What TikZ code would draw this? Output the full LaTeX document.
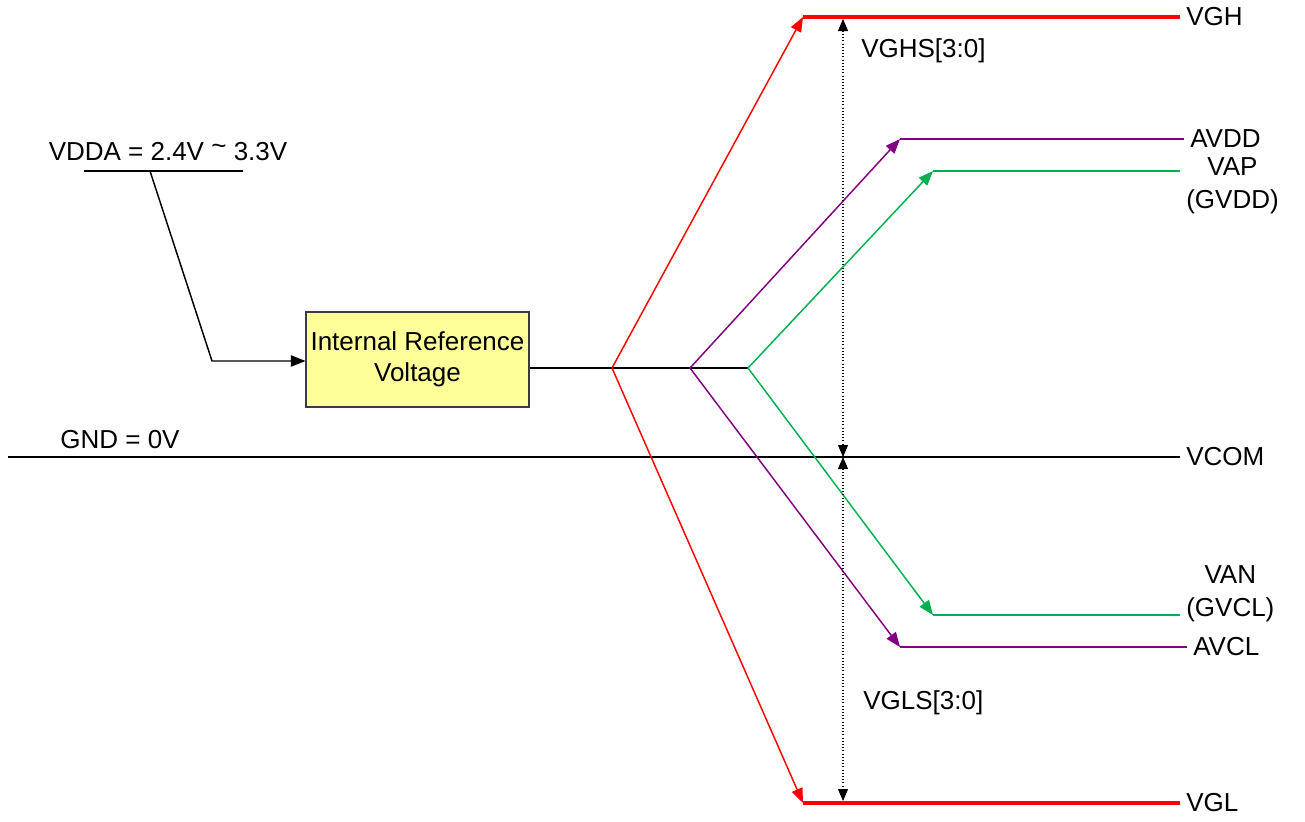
\documentclass[tikz,border=0pt]{standalone}
\usepackage{fontspec}
\setmainfont{Liberation Sans}
\usetikzlibrary{arrows.meta}
\definecolor{vred}{RGB}{255,0,0}
\definecolor{vpurple}{RGB}{128,0,128}
\definecolor{vgreen}{RGB}{0,176,80}
\definecolor{boxyellow}{RGB}{255,255,153}
\definecolor{boxedge}{RGB}{60,60,60}

\begin{document}
\begin{tikzpicture}[x=0.75pt,y=0.75pt,yscale=-1,xscale=1,
  txt/.style={inner sep=0.75pt,font=\fontsize{19.5}{24.5}\selectfont},
  lbl/.style={txt,anchor=west,inner xsep=4.5pt,align=center},
  tip/.style={-{Triangle[length=11pt,width=8.5pt]}},
  dimline/.style={dash pattern={on 0.8pt off 1.6pt},line width=0.8pt,{Triangle[length=9pt,width=7.5pt]}-{Triangle[length=9pt,width=7.5pt]}},
  rail/.style={line width=2pt},
  feed/.style={line width=1.1pt}]
\useasboundingbox (0,0) rectangle (1305,821);

% Text Node
\node (vdda) [txt] at (168,152) {VDDA = 2.4V \raisebox{4.5pt}{\char"007E}\ 3.3V};
\coordinate (ul1) at (84,171);
\coordinate (ul2) at (243,171);
\coordinate (uk) at (150,171);
\coordinate (bend) at (212,361);
% Box
\node (box) [draw=boxedge,fill=boxyellow,line width=0.8pt,minimum width=167.25pt,minimum height=71.25pt,
  inner sep=0pt,align=center,font=\fontsize{19.5}{23.5}\selectfont] at (417.5,359.5) {Internal Reference\\Voltage};
% Straight Lines
\draw [feed] (ul1) -- (ul2);
\draw [feed,tip] (uk) -- (bend) -- (bend -| box.west);

% Right labels
\node (vgh)  [lbl] at (1180,17)  {VGH};
\node (avdd) [lbl] at (1184,139) {AVDD};
\node (vap)  [lbl] at (1180,186) {VAP\\(GVDD)};
\node (vcom) [lbl] at (1180,457) {VCOM};
\node (van)  [lbl] at (1180,594) {VAN\\(GVCL)};
\node (avcl) [lbl] at (1187,647) {AVCL};
\node (vgl)  [lbl] at (1180,803) {VGL};
\node (gnd)  [txt] at (120,440) {GND = 0V};

% Forks
\coordinate (fr) at (612,368);
\coordinate (fp) at (690,368);
\coordinate (fg) at (748,368);
\coordinate (ghk) at (803,17);
\coordinate (glk) at (803,803);
\coordinate (adk) at (900,139);
\coordinate (alk) at (900,647);
\coordinate (apk) at (933,171);
\coordinate (ank) at (933,615);
\coordinate (vapend) at (1180,171);
\coordinate (vanend) at (1180,615);
\coordinate (gndst) at (8,457);

\draw [feed] (box.east |- fr) -- (fg);
\draw [feed] (gndst) -- (vcom.west);

% VGH / VGL
\draw [vred,feed,tip] (fr) -- (ghk);
\draw [vred,feed,tip] (fr) -- (glk);
\draw [vred,line width=2.4pt] (ghk) -- (vgh.west);
\draw [vred,line width=2.4pt] (glk) -- (vgl.west);
% AVDD / AVCL
\draw [vpurple,feed,tip] (fp) -- (adk);
\draw [vpurple,feed,tip] (fp) -- (alk);
\draw [vpurple,rail] (adk) -- (avdd.west);
\draw [vpurple,rail] (alk) -- (avcl.west);
% VAP / VAN
\draw [vgreen,feed,tip] (fg) -- (apk);
\draw [vgreen,feed,tip] (fg) -- (ank);
\draw [vgreen,rail] (apk) -- (vapend);
\draw [vgreen,rail] (ank) -- (vanend);

% Dotted ranges
\coordinate (sh) at (843,19);
\coordinate (sm) at (843,457);
\coordinate (sl) at (843,801);
\draw [dimline] (sh) -- (sm);
\draw [dimline] (sm) -- (sl);
\node (vghs) [txt,anchor=west] at (860,51) {VGHS[3:0]};
\node (vgls) [txt,anchor=west] at (862,703) {VGLS[3:0]};

\end{tikzpicture}
\end{document}
